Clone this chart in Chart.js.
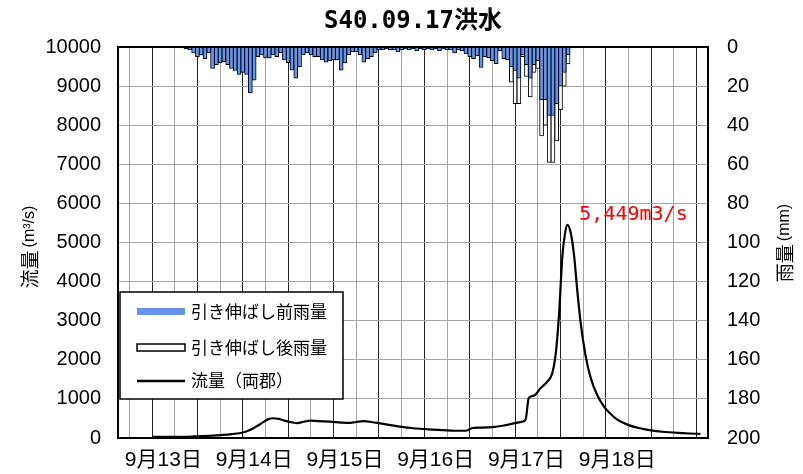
<!DOCTYPE html>
<html><head><meta charset="utf-8">
<script src="https://cdn.jsdelivr.net/npm/chart.js@4/dist/chart.umd.min.js"></script>
<style>html,body{margin:0;padding:0;background:#fff}#wrap{width:803px;height:474px;position:relative}</style>
</head><body><div id="wrap"><canvas id="c" width="803" height="474"></canvas></div>
<script>
// ---- data ----
const titleText = 'S40.09.17洪水';
const dateLabels = ['9月13日','9月14日','9月15日','9月16日','9月17日','9月18日'];
const dateLabelHours = [12, 36, 60, 84, 108, 132];   // hours from axis start (9/13 0:00)
const rainHours = [17,18,19,20,21,22,23,24,25,26,27,28,29,30,31,32,33,34,35,36,37,38,39,40,41,42,43,44,45,46,47,48,49,50,
  51,52,53,54,55,56,57,58,59,60,61,62,63,64,65,66,67,68,69,70,71,72,73,74,75,76,77,78,79,80,81,82,83,84,85,86,87,88,89,90,
  91,92,93,94,95,96,97,98,99,100,101,102,103,104,105,106,107,108,109,110,111,112,113,114,115,116,117,118,119,120,121,122];
const rainBefore = [0.5,1,1.5,3,5,4,6,3,11,9,8,7.5,9,11,12,14,13,14,23.5,17,5,4,5.6,5.6,4,5,3,6.6,8,11.8,15.9,10,4,3,
  4,5,5,6.6,7.7,7,6.6,6.6,11.8,8.2,4,2.5,2.5,4,7.7,6,5,3,1.5,1.5,1,1.5,1.5,2.5,1.5,1,1.5,1,2,1,1.5,1,1.5,1,2,1,1.5,1.5,3,1.5,
  2,3.5,5,6,4.5,10.5,5,5.5,7,8.5,2,6,6.5,10,12,16,4,9,16,9,7,27,27,35,35,29,20,13,4,0.5,0.3,0.3];
const rainAfter = [null,null,null,null,null,null,null,null,null,null,null,null,null,null,null,null,null,null,null,null,null,null,null,null,null,null,null,null,null,null,null,null,null,null,
  null,null,null,null,null,null,null,null,null,null,null,null,null,null,null,null,null,null,null,null,null,null,null,null,null,null,null,null,null,null,null,null,null,null,null,null,null,null,null,null,
  null,null,null,null,null,null,null,null,null,null,null,null,null,18,29,29,5,15,25.5,13,11,45.5,40,59,59,48,32,20,8.7,null,null,null];
const flowHours = [9,15,20,24,28,30,33,35,36,38,39.5,41,42.5,44,46,47.5,49,51,53,56,59,61,63,65,67,69,72,75,78,82,86,89,91,92.5,93.5,96,99,102,104,106,107,107.8,
  108.6,110,111.7,113.5,114.8,115.7,116.6,117.5,118.1,118.8,119.7,120.6,121.4,122.3,123.6,125,126.7,128.5,130,132,135,138,141,144,148,151,154];
const flowValues = [30,30,40,55,80,100,140,210,260,380,470,505,490,445,400,380,415,445,430,420,395,385,410,430,410,380,330,285,250,220,200,185,185,200,250,265,280,320,360,400,420,480,
  1020,1085,1270,1440,1650,2120,3140,4660,5170,5449,5250,4660,3810,2970,2120,1530,1100,805,640,470,330,250,195,160,130,115,105];
const peakHour = 118.8, peakFlow = 5449, peakText = '5,449m3/s';
const legendLabels = ['引き伸ばし前雨量','引き伸ばし後雨量','流量（両郡）'];
const leftAxisTitle = ['流量', '(m³/s)'];
const rightAxisTitle = ['雨量', '(mm)'];

// ---- chart ----
const BLUE = '#6495ED';
const numFont = '"Liberation Sans","Noto Sans CJK JP",sans-serif';
const cjkFont = '"Noto Sans CJK JP",sans-serif';

const overlay = {
  id: 'overlay',
  afterDraw(chart) {
    const ctx = chart.ctx, a = chart.chartArea;
    const xs = chart.scales.x, ys = chart.scales.y;
    ctx.save();
    // frame
    ctx.strokeStyle = '#000'; ctx.lineWidth = 2;
    ctx.strokeRect(a.left, a.top, a.right - a.left, a.bottom - a.top);
    // title
    ctx.fillStyle = '#000';
    ctx.font = 'bold 24px "DejaVu Sans Mono","Noto Sans CJK JP",monospace';
    ctx.textAlign = 'center'; ctx.textBaseline = 'middle';
    ctx.fillText(titleText, (a.left + a.right) / 2, 22);
    // axis titles
    function vtitle(parts, cx, cy) {
      ctx.save();
      ctx.translate(cx, cy); ctx.rotate(-Math.PI / 2);
      ctx.font = '19px ' + cjkFont;
      const w1 = ctx.measureText(parts[0]).width;
      ctx.font = '16px ' + numFont;
      const w2 = ctx.measureText(parts[1]).width;
      let x0 = -(w1 + w2 + 3) / 2;
      ctx.textAlign = 'left'; ctx.textBaseline = 'middle';
      ctx.font = '19px ' + cjkFont; ctx.fillText(parts[0], x0, 0);
      ctx.font = '16px ' + numFont; ctx.fillText(parts[1], x0 + w1 + 3, 0);
      ctx.restore();
    }
    vtitle(leftAxisTitle, 30, 247);
    vtitle(rightAxisTitle, 785, 243);
    // legend
    const lx = a.left + 2, ly = 292, lw = 223, lh = 107;
    ctx.fillStyle = '#fff'; ctx.fillRect(lx, ly, lw, lh);
    ctx.strokeStyle = '#000'; ctx.lineWidth = 1.5; ctx.strokeRect(lx, ly, lw, lh);
    ctx.fillStyle = BLUE; ctx.fillRect(lx + 17, 308, 48, 7);
    ctx.fillStyle = '#fff'; ctx.fillRect(lx + 17, 344, 48, 7);
    ctx.strokeStyle = '#000'; ctx.lineWidth = 1.5; ctx.strokeRect(lx + 17, 344, 48, 7);
    ctx.beginPath(); ctx.moveTo(lx + 17, 381); ctx.lineTo(lx + 65, 381); ctx.lineWidth = 2.5; ctx.stroke();
    ctx.fillStyle = '#000'; ctx.font = '17px ' + cjkFont; ctx.textAlign = 'left'; ctx.textBaseline = 'middle';
    ctx.fillText(legendLabels[0], lx + 71, 312);
    ctx.fillText(legendLabels[1], lx + 71, 348);
    ctx.fillText(legendLabels[2], lx + 71, 381);
    // peak label
    ctx.fillStyle = '#ff0000'; ctx.font = '20px "DejaVu Sans Mono",monospace';
    ctx.textAlign = 'left'; ctx.textBaseline = 'middle';
    ctx.fillText(peakText, xs.getPixelForValue(peakHour) + 12, ys.getPixelForValue(peakFlow) - 10);
    ctx.restore();
  }
};

new Chart(document.getElementById('c'), {
  type: 'bar',
  data: {
    datasets: [
      { type: 'line', label: legendLabels[2], data: flowHours.map((h, i) => ({x: h, y: flowValues[i]})),
        yAxisID: 'y', borderColor: '#000', borderWidth: 2.2, pointRadius: 0, cubicInterpolationMode: 'monotone', order: 0 },
      { label: legendLabels[0], data: rainHours.map((h, i) => ({x: h, y: rainBefore[i]})), yAxisID: 'yR',
        backgroundColor: BLUE, borderColor: '#000', borderWidth: 1, barThickness: 4, grouped: false, order: 1 },
      { label: legendLabels[1], data: rainHours.map((h, i) => ({x: h, y: rainAfter[i]})), yAxisID: 'yR',
        backgroundColor: '#fff', borderColor: '#000', borderWidth: 1, barThickness: 4, grouped: false, order: 2 }
    ]
  },
  options: {
    responsive: false, animation: false, devicePixelRatio: 1,
    layout: { padding: { top: 47, left: 0, right: 0, bottom: 0 } },
    plugins: { legend: { display: false }, tooltip: { enabled: false }, title: { display: false } },
    scales: {
      x: { type: 'linear', min: 0, max: 156, offset: false,
        afterFit(s) { s.height = 36; },
        grid: { color: c => (c.tick && c.tick.value % 12 === 0) ? '#222' : '#a6a6a6', lineWidth: 1, drawTicks: false },
        border: { display: false },
        ticks: { stepSize: 6, autoSkip: false, maxRotation: 0, padding: 10, color: '#000',
          font: { family: numFont, size: 21 },
          callback: v => { const k = dateLabelHours.indexOf(v); return k >= 0 ? dateLabels[k] : ''; } } },
      y: { position: 'left', min: 0, max: 10000,
        afterFit(s) { s.width = 118; },
        grid: { color: '#a6a6a6', lineWidth: 1, drawTicks: false }, border: { display: false },
        ticks: { stepSize: 1000, padding: 17, color: '#000', font: { family: numFont, size: 20 },
          callback: v => String(v) } },
      yR: { position: 'right', min: 0, max: 200, reverse: true,
        afterFit(s) { s.width = 95; },
        grid: { display: false, drawTicks: false }, border: { display: false },
        ticks: { stepSize: 20, padding: 19, color: '#000', font: { family: numFont, size: 20 },
          callback: v => String(v) } }
    }
  },
  plugins: [overlay]
});
</script></body></html>
